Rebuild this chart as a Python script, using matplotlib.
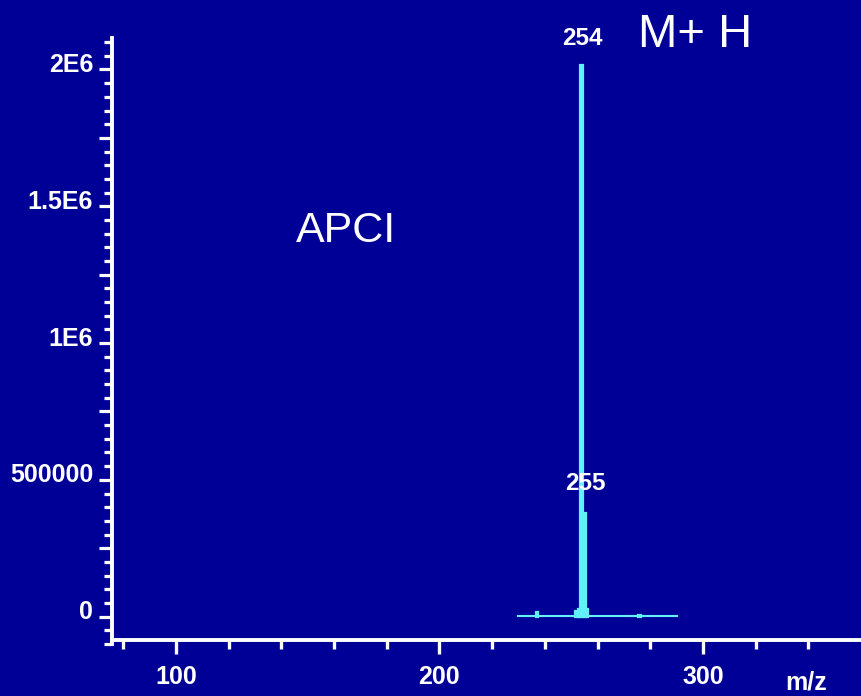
import numpy as np
import matplotlib
matplotlib.use('Agg')
import matplotlib.pyplot as plt
from matplotlib.transforms import ScaledTranslation

plt.rcParams['font.family'] = ['Liberation Sans', 'DejaVu Sans']

# spectrum values
mz = [237, 252, 253, 254, 255, 256, 276]
intensity = [18000, 22000, 28000, 2015000, 380000, 28000, 7000]
baseline_mz = [230, 290]
baseline_level = [2000, 2000]

peak_labels = ['254', '255']
peak_label_y = [2.115e6, 0.485e6]

xticks_major = [100, 200, 300]
yticks_labelled = [0, 500000, 1000000, 1500000, 2000000]
ytick_text = ['0', '500000', '1E6', '1.5E6', '2E6']

bg = '#000096'
cyan = '#62f0fa'
white = 'white'

fig = plt.figure(figsize=(8.61, 6.96), dpi=100)
fig.patch.set_facecolor(bg)
ax = fig.add_axes([0.130, 0.0747, 0.870, 0.8707])
ax.set_facecolor(bg)

ax.plot(baseline_mz, baseline_level, color=cyan, lw=1.5)
ax.bar(mz, intensity, width=1.0, color=cyan, edgecolor=cyan, linewidth=1.6)

ax.set_xlim(75.7, 360)
ax.set_ylim(-100000, 2.115e6)

for s in ['top', 'right']:
    ax.spines[s].set_visible(False)
for s in ['left', 'bottom']:
    ax.spines[s].set_color(white)
    ax.spines[s].set_linewidth(2.8)
ax.spines['bottom'].set_position(('data', -87000))

ax.set_xticks(xticks_major)
ax.set_xticklabels([str(v) for v in xticks_major])
ax.set_xticks(np.arange(80, 360, 20), minor=True)
ax.tick_params(axis='x', which='major', length=10, width=2.4, color=white,
               pad=8, labelsize=18, labelcolor=white)
ax.tick_params(axis='x', which='minor', length=6.5, width=2.4, color=white)

yt = np.arange(0, 2.1e6, 250000)
ax.set_yticks(yt)
ax.set_yticklabels([ytick_text[yticks_labelled.index(v)] if v in yticks_labelled else ''
                    for v in yt])
ax.set_yticks(np.arange(-100000, 2.12e6, 50000), minor=True)
ax.tick_params(axis='y', which='major', length=9.5, width=2.3, color=white,
               pad=4, labelsize=18, labelcolor=white)
ax.tick_params(axis='y', which='minor', length=5.5, width=2.3, color=white)

for lab in ax.get_xticklabels() + ax.get_yticklabels():
    lab.set_fontweight('bold')
for lab in ax.get_yticklabels():
    lab.set_transform(lab.get_transform() + ScaledTranslation(0, 5 / 72, fig.dpi_scale_trans))

ax.text(254.3, peak_label_y[0], peak_labels[0], color=white, fontsize=17.5,
        fontweight='bold', ha='center', va='center')
ax.text(255.5, peak_label_y[1], peak_labels[1], color=white, fontsize=17.5,
        fontweight='bold', ha='center', va='center')
ax.text(0.741, 0.950, 'M+ H', transform=fig.transFigure, color=white,
        fontsize=34, ha='left', va='center')
ax.text(0.344, 0.668, 'APCI', transform=fig.transFigure, color=white,
        fontsize=31, ha='left', va='center')
ax.text(0.936, 0.002, 'm/z', transform=fig.transFigure, color=white,
        fontsize=18, fontweight='bold', ha='center', va='bottom')

fig.savefig('out.png', dpi=100, facecolor=bg)
